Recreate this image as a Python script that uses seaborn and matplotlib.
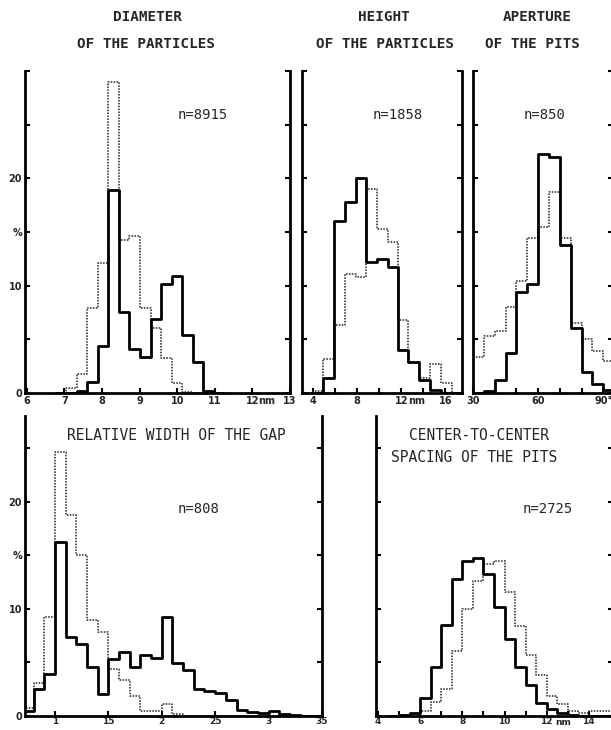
import numpy as np
import pandas as pd
import matplotlib
matplotlib.use("Agg")
import matplotlib.pyplot as plt
import seaborn as sns

# ---------------- data (percent per bin) ----------------
diam_edges = [6.77, 7.05, 7.33, 7.61, 7.89, 8.17, 8.45, 8.73, 9.01, 9.29,
              9.57, 9.85, 10.13, 10.41, 10.69, 10.97, 11.25]
diam_solid = [0, 0, 0.15, 1.0, 4.4, 18.9, 7.5, 4.1, 3.4, 6.9, 10.2, 10.9, 5.4, 2.9, 0.15, 0]
diam_dotted = [0, 0.5, 1.8, 7.9, 12.1, 29.0, 14.3, 14.6, 7.9, 6.1, 3.3, 0.9, 0.1, 0, 0, 0]

height_edges = [3.9, 4.9, 5.9, 6.9, 7.85, 8.8, 9.8, 10.75, 11.7, 12.65, 13.6,
                14.6, 15.6, 16.6, 17.5]
height_solid = [0, 1.4, 16.0, 17.8, 20.0, 12.2, 12.5, 11.7, 4.05, 2.9, 1.25, 0.25, 0, 0]
height_dotted = [0.15, 3.2, 6.3, 11.1, 10.8, 19.0, 15.3, 14.1, 6.8, 2.8, 1.4, 2.7, 0.9, 0]

aper_edges = [30, 35, 40, 45, 50, 55, 60, 65, 70, 75, 80, 85, 90, 95]
aper_solid = [0, 0.15, 1.25, 3.7, 9.4, 10.2, 22.3, 22.0, 13.8, 6.1, 2.0, 0.8, 0.25]
aper_dotted = [3.4, 5.3, 5.8, 8.0, 10.4, 14.4, 15.5, 18.75, 14.4, 6.5, 5.0, 3.9, 3.0]

gap_edges = [0.7, 0.8, 0.9, 1.0, 1.1, 1.2, 1.3, 1.4, 1.5, 1.6, 1.7, 1.8, 1.9, 2.0,
             2.1, 2.2, 2.3, 2.4, 2.5, 2.6, 2.7, 2.8, 2.9, 3.0, 3.1, 3.2, 3.3, 3.4, 3.5]
gap_solid = [0.5, 2.5, 3.95, 16.2, 7.4, 6.7, 4.6, 2.1, 5.35, 6.0, 4.6, 5.7, 5.4, 9.2,
             4.95, 4.3, 2.55, 2.3, 2.15, 1.45, 0.6, 0.4, 0.3, 0.45, 0.2, 0.1, 0, 0]
gap_dotted = [0.75, 3.1, 9.2, 24.6, 18.75, 15.0, 9.0, 7.8, 4.4, 3.4, 1.9, 0.45, 0.45, 1.1,
              0.15, 0, 0, 0, 0, 0, 0, 0, 0, 0, 0, 0, 0, 0]

spac_edges = [4.5, 5.0, 5.5, 6.0, 6.5, 7.0, 7.5, 8.0, 8.5, 9.0, 9.5, 10.0, 10.5,
              11.0, 11.5, 12.0, 12.5, 13.0, 13.5, 14.0, 14.5, 15.0, 15.5]
spac_solid = [0, 0.12, 0.3, 1.7, 4.6, 8.45, 12.8, 14.5, 14.75, 13.25, 10.15, 7.2, 4.55,
              2.85, 1.25, 0.7, 0.3, 0.12, 0, 0, 0, 0]
spac_dotted = [0, 0.06, 0.2, 0.45, 1.3, 2.55, 6.1, 10.0, 12.6, 14.2, 14.45, 11.55, 8.4,
               5.65, 3.8, 1.9, 1.15, 0.5, 0.3, 0.5, 0.5, 0.5]

# tick labels
diam_ticks = [6, 7, 8, 9, 10, 11, 12, 13]
diam_labels = ["6", "7", "8", "9", "10", "11", "12", "13"]
height_ticks = [4, 6, 8, 10, 12, 14, 16]
height_labels = ["4", "", "8", "", "12", "", "16"]
aper_ticks = [30, 40, 50, 60, 70, 80, 90]
aper_labels = ["30", "", "", "60", "", "", "90°"]
gap_ticks = [1, 1.5, 2, 2.5, 3, 3.5]
gap_labels = ["1", "15", "2", "25", "3", "35"]
spac_ticks = [4, 5, 6, 7, 8, 9, 10, 11, 12, 13, 14]
spac_labels = ["4", "", "6", "", "8", "", "10", "", "12", "", "14"]

top_yticks = [0, 5, 10, 15, 20, 25, 30]
bot_yticks = [0, 5, 10, 15, 20, 25]
top_ylabels = ["0", "", "10", "%", "20", "", ""]
bot_ylabels = ["0", "", "10", "%", "20", ""]

# ---------------- figure ----------------
sns.set_theme(style="ticks")
plt.rcParams["font.family"] = ["DejaVu Sans"]

W, H = 611, 730
fig = plt.figure(figsize=(W / 100, H / 100), dpi=100)
fig.patch.set_facecolor("white")


def px_axes(x0, x1, y0, y1):
    return fig.add_axes([x0 / W, 1 - y1 / H, (x1 - x0) / W, (y1 - y0) / H])


def draw(ax, edges, solid, dotted):
    e = [float(v) for v in edges]
    centers = [(a + b) / 2 for a, b in zip(e[:-1], e[1:])]
    df = pd.DataFrame({"x": centers, "solid": solid, "dotted": dotted})
    sns.histplot(data=df, x="x", weights="dotted", bins=e, element="step", fill=False,
                 color="#222222", linewidth=1.1, linestyle=(0, (1.0, 0.9)), ax=ax)
    sns.histplot(data=df, x="x", weights="solid", bins=e, element="step", fill=False,
                 color="black", linewidth=2.0, ax=ax)
    ax.set_xlabel("")
    ax.set_ylabel("")
    ax.set_facecolor("white")
    ax.grid(False)
    ax.spines["top"].set_visible(False)
    for s in ("left", "right", "bottom"):
        ax.spines[s].set_linewidth(2.0)
        ax.spines[s].set_color("black")
    ax.tick_params(direction="in", length=3.5, width=1.5, color="black",
                   left=True, right=True, bottom=True, top=False,
                   labelsize=7, pad=2)


def set_ticks(ax, xt, xl, yt, yl, show_y, xsize=7, xpad=2):
    ax.set_xticks(xt)
    ax.set_xticklabels(xl, fontsize=xsize, fontweight="bold")
    ax.tick_params(axis="x", pad=xpad)
    ax.set_yticks(yt)
    if show_y:
        ax.set_yticklabels(yl, fontsize=7, fontweight="bold")
    else:
        ax.set_yticklabels([])


def nm(ax, x, off, size=7, dy=-2.2):
    ax.annotate("nm", xy=(x, 0), xycoords=("data", "axes fraction"),
                xytext=(off, dy), textcoords="offset points",
                ha="center", va="top", fontsize=size, fontweight="bold")


# top row
ax1 = px_axes(25, 290, 71, 393)
draw(ax1, diam_edges, diam_solid, diam_dotted)
ax1.set_xlim(5.95, 13.0)
ax1.set_ylim(0, 30)
set_ticks(ax1, diam_ticks, diam_labels, top_yticks, top_ylabels, True)
nm(ax1, 12, 10)

ax2 = px_axes(302, 462, 71, 393)
draw(ax2, height_edges, height_solid, height_dotted)
ax2.set_xlim(3.0, 17.5)
ax2.set_ylim(0, 30)
set_ticks(ax2, height_ticks, height_labels, top_yticks, top_ylabels, False)
nm(ax2, 12, 11)

ax3 = px_axes(473, 613, 71, 393)
draw(ax3, aper_edges, aper_solid, aper_dotted)
ax3.set_xlim(30, 94.5)
ax3.set_ylim(0, 30)
set_ticks(ax3, aper_ticks, aper_labels, top_yticks, top_ylabels, False)

# bottom row
ax4 = px_axes(25, 322, 416, 716)
draw(ax4, gap_edges, gap_solid, gap_dotted)
ax4.set_xlim(0.72, 3.5)
ax4.set_ylim(0, 28.0)
set_ticks(ax4, gap_ticks, gap_labels, bot_yticks, bot_ylabels, True, xsize=6.5, xpad=1)

ax5 = px_axes(376, 613, 416, 716)
draw(ax5, spac_edges, spac_solid, spac_dotted)
ax5.set_xlim(3.9, 15.15)
ax5.set_ylim(0, 28.0)
set_ticks(ax5, spac_ticks, spac_labels, bot_yticks, bot_ylabels, False, xsize=6.5, xpad=1)
nm(ax5, 12, 12, size=6.5, dy=-1.5)

# ---------------- texts ----------------
mono = ["DejaVu Sans Mono"]


def ftext(x, y, s, bold=True, size=10):
    fig.text(x / W, 1 - y / H, s, ha="center", va="center", family=mono,
             fontweight="bold" if bold else "normal", fontsize=size)


ftext(147, 17, "DIAMETER", size=10.3)
ftext(146, 44, "OF THE PARTICLES", size=10.3)
ftext(384, 17, "HEIGHT", size=10.3)
ftext(385, 44, "OF THE PARTICLES", size=10.3)
ftext(537, 17, "APERTURE", size=10.3)
ftext(532, 44, "OF THE PITS", size=10.3)
ftext(176, 435, "RELATIVE WIDTH OF THE GAP", bold=False, size=10.5)
ftext(479, 435, "CENTER-TO-CENTER", bold=False, size=10.5)
ftext(474, 457, "SPACING OF THE PITS", bold=False, size=10.5)

ftext(203, 115, "n=8915", bold=False, size=10)
ftext(398, 115, "n=1858", bold=False, size=10)
ftext(545, 115, "n=850", bold=False, size=10)
ftext(199, 509, "n=808", bold=False, size=10)
ftext(548, 509, "n=2725", bold=False, size=10)

fig.savefig("out.png", dpi=100, facecolor="white")
